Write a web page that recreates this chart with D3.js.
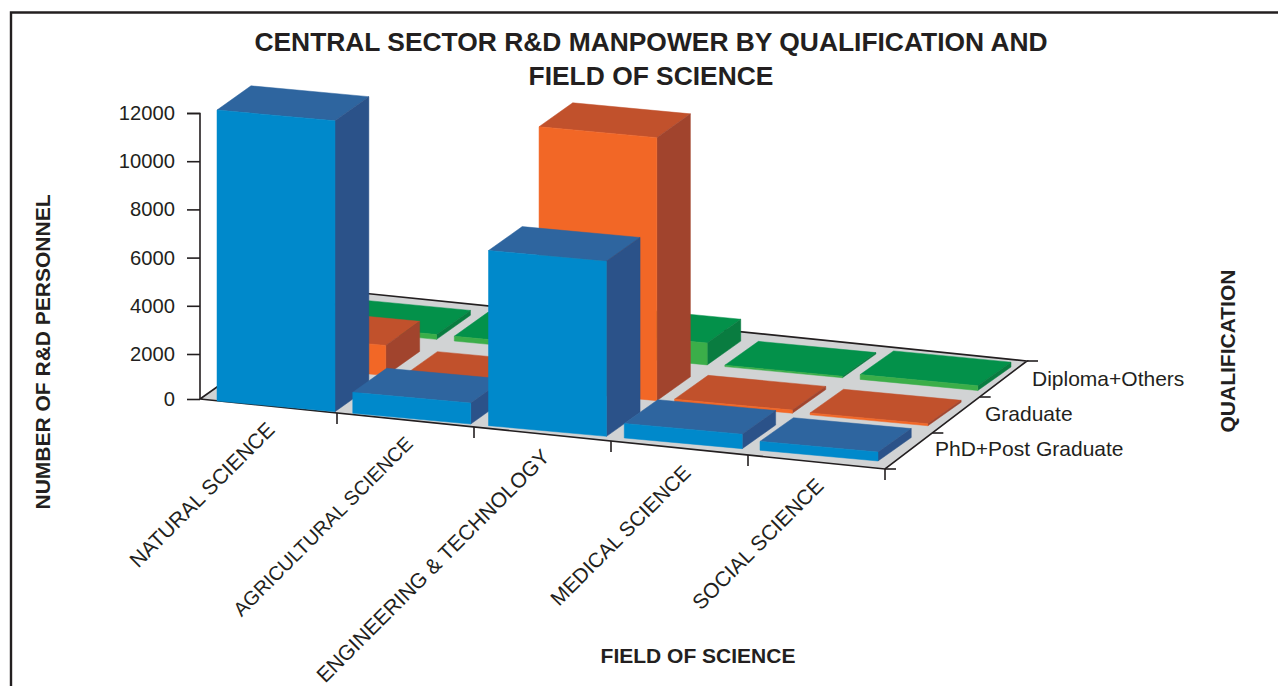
<!DOCTYPE html>
<html><head><meta charset="utf-8">
<script src="https://cdn.jsdelivr.net/npm/d3@7/dist/d3.min.js"></script>
<style>html,body{margin:0;padding:0;background:#fff}svg{display:block}text{font-family:"Liberation Sans",Arial,sans-serif;fill:#231f20}</style>
</head><body><svg id="c" width="1278" height="686"></svg>
<script>
const fields=["NATURAL SCIENCE","AGRICULTURAL SCIENCE","ENGINEERING & TECHNOLOGY","MEDICAL SCIENCE","SOCIAL SCIENCE"];
const qualifications=["PhD+Post Graduate","Graduate","Diploma+Others"];
const phdValues=[12080,870,7270,600,370];
const graduateValues=[1250,60,10920,130,80];
const diplomaValues=[200,200,910,60,200];
const yTicks=[0,2000,4000,6000,8000,10000,12000];

const svg=d3.select("#c");
const ink="#231f20";
// frame: open at the bottom and on the right
svg.append("path").attr("d","M11,686V12.5H1278").attr("fill","none").attr("stroke",ink).attr("stroke-width",2.4);

// floor quad
const A=[200,399],B=[885,469],C=[1027,361],D=[352,292];
const uS=d3.scaleLinear().domain([0,fields.length]).range([0,1]);
const vS=d3.scaleLinear().domain([0,qualifications.length]).range([0,1]);
const bil=(Q,a,b)=>[0,1].map(k=>(1-a)*(1-b)*Q[0][k]+a*(1-b)*Q[1][k]+a*b*Q[2][k]+(1-a)*b*Q[3][k]);
const P=(u,v)=>bil([A,B,C,D],uS(u),vS(v));
// quad on which the bars stand
const barQuad=[[217,401],[878,461],[1011,367],[353,304]];
const BW=0.1785,BD=0.25;
const sS=d3.scaleLinear().domain([0,fields.length-1]).range([0,1-BW]);
const tS=d3.scaleLinear().domain([0,qualifications.length-1]).range([0,1-BD]);
const hPx=d3.scaleLinear().domain([0,12000]).range([0,289]);
const yAxisScale=d3.scaleLinear().domain([0,2000,12000]).range([399,354,113]);
const line=d3.line();
const poly=(pts,fill)=>svg.append("path").attr("d",line(pts)+"Z").attr("fill",fill).attr("stroke",fill).attr("stroke-width",0.5);

poly([A,B,C,D],"#d1d3d4");
svg.append("path").attr("d",line([A,D,C,B,A])).attr("fill","none").attr("stroke",ink).attr("stroke-width",1.6);

const palette=[
 {front:"#0089cb",top:"#2e659f",side:"#2b5289"},
 {front:"#f26726",top:"#c1512c",side:"#a1442d"},
 {front:"#3bae49",top:"#03914a",side:"#097c40"}];
const series=[phdValues,graduateValues,diplomaValues];
for(let r=2;r>=0;r--){
  fields.forEach((f,i)=>{
    const h=hPx(series[r][i]),c=palette[r];
    const s0=sS(i),s1=s0+BW,t0=tS(r),t1=t0+BD;
    const up=p=>[p[0],p[1]-h];
    const a=bil(barQuad,s0,t0),b=bil(barQuad,s1,t0),cc=bil(barQuad,s1,t1),d=bil(barQuad,s0,t1);
    poly([up(a),up(b),up(cc),up(d)],c.top);
    poly([b,cc,up(cc),up(b)],c.side);
    poly([a,b,up(b),up(a)],c.front);
  });
}

// value axis
const yG=svg.append("g").attr("transform","translate(200,0)").call(
  d3.axisLeft(yAxisScale).tickValues(yTicks).tickSize(13).tickPadding(12).tickFormat(d3.format("d")));
yG.selectAll("line,path").attr("stroke",ink).attr("stroke-width",1.6);
yG.select("path").attr("d","M-13,113.5H0V399");
yG.selectAll("text").style("font-size","20.2px").attr("fill",ink).style("font-family",'"Liberation Sans"');

// category ticks and labels
const labelEnds=[[276,431],[414,445],[551,458],[692,474],[825,487]];
const labelSizes=[21,19.8,21,20.6,21];
fields.forEach((f,i)=>{
  const p=P(i+1,0);
  svg.append("line").attr("x1",p[0]).attr("x2",p[0]).attr("y1",p[1]).attr("y2",p[1]+11).attr("stroke",ink).attr("stroke-width",1.6);
  const e=labelEnds[i];
  svg.append("text").attr("transform",`translate(${e[0]},${e[1]}) rotate(-45)`).attr("text-anchor","end").style("font-size",labelSizes[i]+"px").text(f);
});
// depth ticks and labels
const labelPos=[[935,456],[985,421],[1032,386]];
[0,1,2,3].forEach(v=>{const p=P(5,v);
  svg.append("line").attr("x1",p[0]).attr("x2",p[0]+11).attr("y1",p[1]).attr("y2",p[1]).attr("stroke",ink).attr("stroke-width",1.6);});
qualifications.forEach((q,i)=>{
  svg.append("text").attr("x",labelPos[i][0]).attr("y",labelPos[i][1]).style("font-size","21px").text(q);
});

// titles
const titleLines=["CENTRAL SECTOR R&D MANPOWER BY QUALIFICATION AND","FIELD OF SCIENCE"];
titleLines.forEach((t,i)=>svg.append("text").attr("x",651).attr("y",51+i*34).attr("text-anchor","middle").style("font-size","26.4px").style("font-weight","bold").text(t));
svg.append("text").attr("x",698).attr("y",663).attr("text-anchor","middle").style("font-size","21px").style("font-weight","bold").text("FIELD OF SCIENCE");
svg.append("text").attr("transform","translate(50,352) rotate(-90)").attr("text-anchor","middle").style("font-size","21px").style("font-weight","bold").text("NUMBER OF R&D PERSONNEL");
svg.append("text").attr("transform","translate(1235,351) rotate(-90)").attr("text-anchor","middle").style("font-size","21px").style("font-weight","bold").text("QUALIFICATION");
</script></body></html>
